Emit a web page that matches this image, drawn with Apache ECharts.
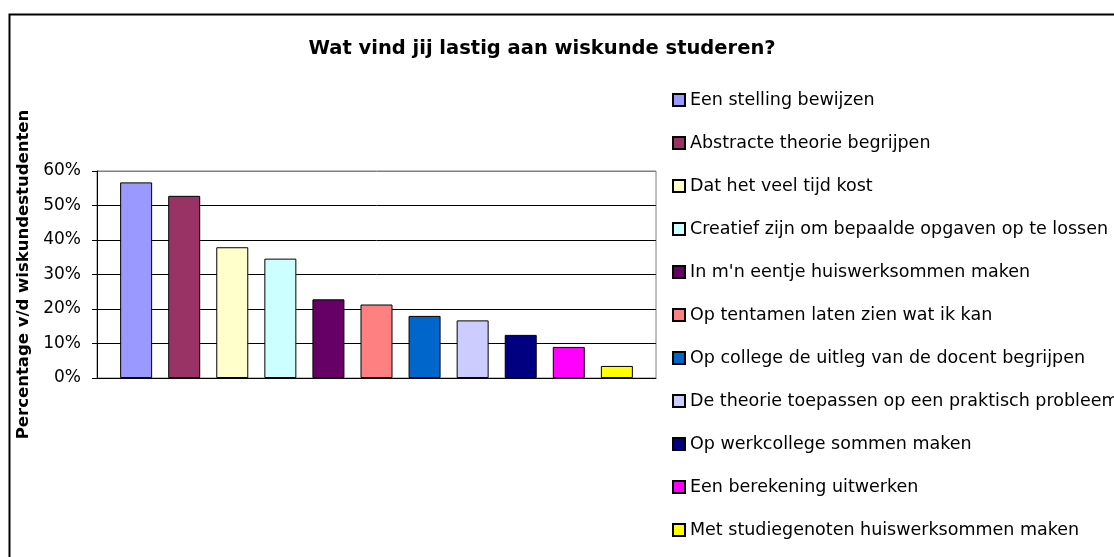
<!DOCTYPE html>
<html>
<head>
<meta charset="utf-8">
<script src="https://cdn.jsdelivr.net/npm/echarts@6/dist/echarts.min.js"></script>
<style>
html,body{margin:0;padding:0;background:#fff;}
#chart{width:1114px;height:557px;}
</style>
</head>
<body>
<div id="chart"></div>
<script>
const titleText = 'Wat vind jij lastig aan wiskunde studeren?';
const yAxisName = 'Percentage v/d wiskundestudenten';
const categories = [
  'Een stelling bewijzen',
  'Abstracte theorie begrijpen',
  'Dat het veel tijd kost',
  'Creatief zijn om bepaalde opgaven op te lossen',
  "In m'n eentje huiswerksommen maken",
  'Op tentamen laten zien wat ik kan',
  'Op college de uitleg van de docent begrijpen',
  'De theorie toepassen op een praktisch probleem',
  'Op werkcollege sommen maken',
  'Een berekening uitwerken',
  'Met studiegenoten huiswerksommen maken'
];
const values = [0.567, 0.528, 0.379, 0.346, 0.228, 0.213, 0.180, 0.167, 0.125, 0.090, 0.035];
const colors = ['#9999FF','#993366','#FFFFCC','#CCFFFF','#660066','#FF8080','#0066CC','#CCCCFF','#000080','#FF00FF','#FFFF00'];
const yTicks = [0, 0.1, 0.2, 0.3, 0.4, 0.5, 0.6];

const FONT = '"DejaVu Sans", "Liberation Sans", Arial, sans-serif';
const chart = echarts.init(document.getElementById('chart'), null, {renderer: 'canvas'});

// Excel-style cluster: each category is its own series within a single cluster
const series = categories.map((name, i) => ({
  name: name,
  type: 'bar',
  barWidth: 32,
  barGap: '-100%',
  data: [[i, values[i]]],
  itemStyle: {color: colors[i], borderColor: '#000', borderWidth: 1},
  emphasis: {disabled: true},
  animation: false
}));

chart.setOption({
  animation: false,
  backgroundColor: '#fff',
  title: {
    text: titleText,
    left: 537, top: 34, textAlign: 'center',
    textStyle: {fontFamily: FONT, fontSize: 19.5, fontWeight: 'bold', color: '#000'}
  },
  legend: {
    orient: 'vertical',
    left: 672, top: 91,
    padding: 0,
    height: 466,
    itemWidth: 12, itemHeight: 12, itemGap: 25,
    icon: 'rect',
    selectedMode: false,
    textStyle: {fontFamily: FONT, fontSize: 17.5, color: '#000', padding: [0,0,0,0]},
    data: categories
  },
  grid: {left: 97, right: 458, top: 171, bottom: 179, show: true, borderColor: '#808080', borderWidth: 1, backgroundColor: 'transparent'},
  xAxis: {
    type: 'value',
    min: -0.814, max: 10.814,
    axisLabel: {show: false},
    axisTick: {show: false},
    axisLine: {show: true, onZero: false, lineStyle: {color: '#000', width: 1}},
    splitLine: {show: false}
  },
  yAxis: {
    type: 'value',
    min: yTicks[0], max: yTicks[yTicks.length - 1], interval: 0.1,
    name: yAxisName,
    nameLocation: 'middle', nameRotate: 90, nameGap: 58,
    nameTextStyle: {fontFamily: FONT, fontSize: 16.5, fontWeight: 'bold', color: '#000'},
    axisLine: {show: true, onZero: false, lineStyle: {color: '#000', width: 1}},
    axisTick: {show: true, length: 5, lineStyle: {color: '#000'}},
    axisLabel: {
      fontFamily: FONT, fontSize: 17, color: '#000', margin: 16,
      formatter: v => Math.round(v * 100) + '%'
    },
    splitLine: {show: true, lineStyle: {color: ['#000','#000','#000','#000','#000','#000','#808080'], width: 1}}
  },
  graphic: [{
    type: 'rect', silent: true, z: 100,
    shape: {x: 9.5, y: 14.5, width: 1200, height: 700},
    style: {fill: 'none', stroke: '#000', lineWidth: 2}
  }],
  series: series
});
</script>
</body>
</html>
